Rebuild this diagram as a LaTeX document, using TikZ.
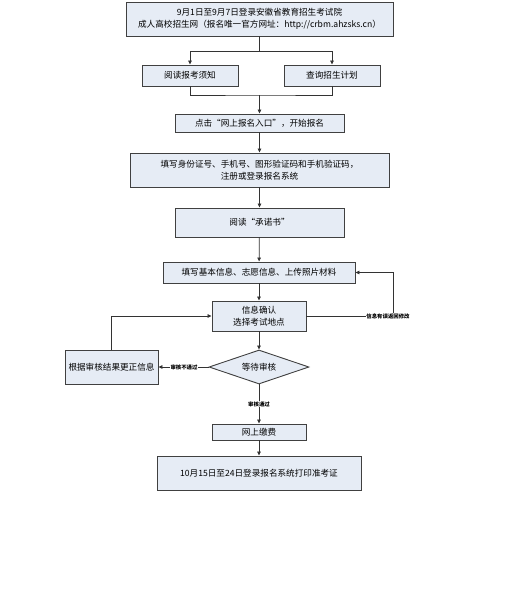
\documentclass[tikz,border=0pt]{standalone}
\usepackage{fontspec}
\usetikzlibrary{shapes.geometric,arrows.meta}
\setmainfont{Noto Sans CJK SC}
\definecolor{boxfill}{HTML}{E6ECF5}
\definecolor{boxline}{HTML}{404040}
\definecolor{flowline}{HTML}{333333}
\newcommand{\tinyfont}{\fontsize{5.4}{6}\selectfont\bfseries}

\tikzset{
  stepbox/.style={draw=boxline,line width=0.9pt,fill=boxfill,align=center,
    inner sep=1pt,font=\fontsize{8.6}{12.5}\selectfont},
  waitbox/.style={diamond,draw=boxline,line width=0.9pt,fill=boxfill,
    aspect=2.9,inner sep=0pt,font=\fontsize{8.6}{12.5}\selectfont},
  flow/.style={draw=flowline,line width=0.8pt,-{Triangle[length=4pt,width=3.6pt]}},
  plain/.style={draw=flowline,line width=0.8pt},
  note/.style={fill=white,inner sep=0.3pt,font=\tinyfont}
}

\begin{document}
\begin{tikzpicture}[x=1pt,y=-1pt]
\useasboundingbox (0,0) rectangle (531,613);

\node[stepbox,minimum width=267pt,minimum height=34pt] (login) at (259.5,19)
  {9月1日至9月7日登录安徽省教育招生考试院\\成人高校招生网（报名唯一官方网址：http://crbm.ahzsks.cn）};
\node[stepbox,minimum width=96pt,minimum height=21pt] (notice) at (190,75.5) {阅读报考须知};
\node[stepbox,minimum width=96pt,minimum height=21pt] (plan) at (332,75.5) {查询招生计划};
\node[stepbox,minimum width=169pt,minimum height=18pt] (entry) at (259.5,123) {点击“网上报名入口”，开始报名};
\node[stepbox,minimum width=259pt,minimum height=34pt] (register) at (259.5,170)
  {填写身份证号、手机号、图形验证码和手机验证码，\\注册或登录报名系统};
\node[stepbox,minimum width=169pt,minimum height=29pt] (promise) at (259.5,222.5) {阅读“承诺书”};
\node[stepbox,minimum width=192pt,minimum height=21pt] (basic) at (259,272.5) {填写基本信息、志愿信息、上传照片材料};
\node[stepbox,minimum width=94pt,minimum height=30pt] (confirm) at (259,316) {信息确认\\选择考试地点};
\node[waitbox,minimum width=100pt,minimum height=34pt] (wait) at (259,367) {等待审核};
\node[stepbox,minimum width=93pt,minimum height=34pt] (correct) at (111.5,367) {根据审核结果更正信息};
\node[stepbox,minimum width=94pt,minimum height=16pt] (pay) at (259,432) {网上缴费};
\node[stepbox,minimum width=204pt,minimum height=34pt] (ticket) at (259,473) {10月15日至24日登录报名系统打印准考证};

% split and join
\coordinate (split) at (259.5,51);
\coordinate (join) at (259.5,95);
\draw[plain] (login.south) -- (split);
\draw[flow] (split) -| (notice.north);
\draw[flow] (split) -| (plan.north);
\draw[plain] (notice.south) |- (join) -| (plan.south);
\draw[flow] (join) -- (entry.north);

\draw[flow] (entry) -- (register);
\draw[flow] (register) -- (promise);
\draw[flow] (promise) -- (basic);
\draw[flow] (basic) -- (confirm);
\draw[flow] (confirm) -- (wait);

% loops
\coordinate (backright) at (393,316);
\draw[plain] (confirm.east) -- (backright);
\draw[flow] (backright) |- (basic.east);
\node[note] (modify) at (388,316) {信息有误返回修改};
\draw[flow] (wait.west) -- (correct.east);
\node[note] (fail) at (184,367) {审核不通过};
\draw[flow] (correct.north) |- (confirm.west);
\draw[flow] (wait.south) -- (pay.north);
\node[note] (pass) at (259,404) {审核通过};
\draw[flow] (pay) -- (ticket);
\end{tikzpicture}
\end{document}
